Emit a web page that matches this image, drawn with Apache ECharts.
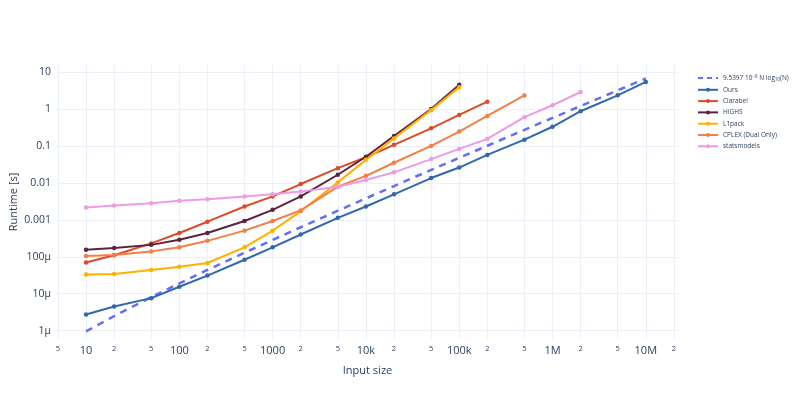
<!DOCTYPE html>
<html><head><meta charset="utf-8">
<script src="https://cdn.jsdelivr.net/npm/echarts@6/dist/echarts.min.js"></script>
<style>html,body{margin:0;padding:0;background:#fff}#c{width:793px;height:397px}</style>
</head><body><div id="c"></div>
<script>
// Input sizes (N)
const sizes = [10, 20, 50, 100, 200, 500, 1e3, 2e3, 5e3, 1e4, 2e4, 5e4, 1e5, 2e5, 5e5, 1e6, 2e6, 5e6, 1e7];
// Runtime [s]
const fitRef = [9.54e-7, 2.482e-6, 8.104e-6, 1.908e-5, 4.390e-5, 1.2874e-4, 2.862e-4, 6.298e-4, 1.7644e-3, 3.816e-3, 8.206e-3, 0.022414, 0.0477, 0.10114, 0.27183, 0.57238, 1.2022, 3.1953, 6.6778];
const ours = [2.75e-6, 4.5e-6, 7.6e-6, 1.55e-5, 3.1e-5, 8.3e-5, 1.8e-4, 4.0e-4, 1.13e-3, 2.3e-3, 4.9e-3, 0.0135, 0.026, 0.057, 0.148, 0.33, 0.87, 2.34, 5.4];
const clarabel = [7e-5, 1.1e-4, 2.3e-4, 4.4e-4, 8.9e-4, 2.3e-3, 4.3e-3, 9.3e-3, 0.025, 0.0495, 0.107, 0.30, 0.69, 1.58];
const highs = [1.55e-4, 1.72e-4, 2.1e-4, 2.9e-4, 4.4e-4, 9.3e-4, 1.86e-3, 4.3e-3, 0.0166, 0.051, 0.186, 1.0, 4.5];
const l1pack = [3.3e-5, 3.4e-5, 4.4e-5, 5.4e-5, 6.8e-5, 1.8e-4, 5.1e-4, 1.7e-3, 0.0103, 0.042, 0.16, 0.93, 3.9];
const cplex = [1.05e-4, 1.12e-4, 1.4e-4, 1.8e-4, 2.7e-4, 5.1e-4, 9.3e-4, 1.8e-3, 7.9e-3, 0.0155, 0.035, 0.1, 0.245, 0.65, 2.33];
const statsmodels = [2.15e-3, 2.45e-3, 2.8e-3, 3.3e-3, 3.6e-3, 4.3e-3, 4.9e-3, 5.8e-3, 7.9e-3, 0.012, 0.0193, 0.044, 0.083, 0.155, 0.6, 1.26, 2.88];

const seriesNames = ['fit', 'Ours', 'Clarabel', 'HiGHS', 'L1pack', 'CPLEX (Dual Only)', 'statsmodels'];
const seriesValues = [fitRef, ours, clarabel, highs, l1pack, cplex, statsmodels];
const seriesColors = ['#636efa', '#2f69ad', '#dc4b27', '#5b2340', '#ffb000', '#f47f45', '#ee9be6'];

const xTickValues = [5, 10, 20, 50, 100, 200, 500, 1e3, 2e3, 5e3, 1e4, 2e4, 5e4, 1e5, 2e5, 5e5, 1e6, 2e6, 5e6, 1e7, 2e7];
const xTickLabels = ['5', '10', '2', '5', '100', '2', '5', '1000', '2', '5', '10k', '2', '5', '100k', '2', '5', '1M', '2', '5', '10M', '2'];
const yTickValues = [1e-6, 1e-5, 1e-4, 1e-3, 1e-2, 0.1, 1, 10];
const yTickLabels = ['1μ', '10μ', '100μ', '0.001', '0.01', '0.1', '1', '10'];

const lg = Math.log10;
function lookup(vals, v) {
  for (let i = 0; i < vals.length; i++) if (Math.abs(lg(vals[i]) - v) < 1e-6) return i;
  return -1;
}
const FONT = '"Open Sans", "Noto Sans", sans-serif';
const TXT = '#2a3f5f';

const series = seriesNames.map((name, k) => {
  const isFit = k === 0;
  return {
    name: name,
    type: 'line',
    data: seriesValues[k].map((v, i) => [lg(sizes[i]), lg(v)]),
    showSymbol: !isFit,
    symbol: 'circle',
    symbolSize: 4.5,
    lineStyle: { width: isFit ? 2.5 : 2, color: seriesColors[k], type: isFit ? [7, 6] : 'solid' },
    itemStyle: { color: seriesColors[k] },
    emphasis: { disabled: true },
    animation: false,
    z: 2 + k
  };
});

const legendData = seriesNames.map((name, k) => k === 0
  ? { name: name, itemStyle: { opacity: 0 }, lineStyle: { type: [5, 4], width: 2, color: seriesColors[0] } }
  : { name: name });

const chart = echarts.init(document.getElementById('c'), null, { renderer: 'canvas' });
chart.setOption({
  backgroundColor: '#fff',
  animation: false,
  textStyle: { fontFamily: FONT },
  grid: { left: 57, right: 115, top: 65, bottom: 58, containLabel: false, outerBoundsMode: 'none' },
  legend: {
    orient: 'vertical',
    left: 692,
    top: 69,
    width: 100,
    itemWidth: 20,
    itemHeight: 5,
    itemGap: 4.3,
    data: legendData,
    textStyle: {
      fontSize: 6.5, color: TXT, fontFamily: FONT,
      rich: {
        a: { fontSize: 6.5, color: TXT, fontFamily: FONT },
        s: { fontSize: 4.5, color: TXT, fontFamily: FONT, verticalAlign: 'top', padding: [0, 0, 3, 0] },
        b: { fontSize: 4.5, color: TXT, fontFamily: FONT, padding: [3, 0, 0, 0] }
      }
    },
    formatter: function (name) {
      if (name === 'fit') return '{a|9.5397 10}{s|−8}{a| N log}{b|10}{a|(N)}';
      return name;
    }
  },
  xAxis: {
    type: 'value',
    min: 0.689,
    max: 7.345,
    name: 'Input size',
    nameLocation: 'middle',
    nameGap: 26,
    nameMoveOverlap: false,
    nameTextStyle: { fontSize: 11, color: TXT, fontFamily: FONT },
    axisLine: { show: false },
    axisTick: { show: false, customValues: xTickValues.map(lg) },
    splitLine: { show: true, lineStyle: { color: '#ebf0f8', width: 1 } },
    axisLabel: {
      customValues: xTickValues.map(lg),
      margin: 6,
      color: TXT,
      fontFamily: FONT,
      formatter: function (v) {
        const i = lookup(xTickValues, v);
        if (i < 0) return '';
        const mant = xTickValues[i] / Math.pow(10, Math.floor(lg(xTickValues[i]) + 1e-9));
        return Math.abs(mant - 1) < 1e-6 ? '{M|' + xTickLabels[i] + '}' : '{m|' + xTickLabels[i] + '}';
      },
      rich: {
        M: { fontSize: 11, color: TXT, fontFamily: FONT },
        m: { fontSize: 7.5, color: TXT, fontFamily: FONT, padding: [0, 0, 3, 0] }
      }
    }
  },
  yAxis: {
    type: 'value',
    min: -6.225,
    max: 1.19,
    name: 'Runtime [s]',
    nameLocation: 'middle',
    nameGap: 38,
    nameMoveOverlap: false,
    nameTextStyle: { fontSize: 11, color: TXT, fontFamily: FONT },
    axisLine: { show: false },
    axisTick: { show: false, customValues: yTickValues.map(lg) },
    splitLine: { show: true, lineStyle: { color: '#ebf0f8', width: 1 } },
    axisLabel: {
      customValues: yTickValues.map(lg),
      margin: 6,
      fontSize: 10.5,
      color: TXT,
      fontFamily: FONT,
      formatter: function (v) {
        const i = lookup(yTickValues, v);
        return i < 0 ? '' : yTickLabels[i];
      }
    }
  },
  series: series
});
</script>
</body></html>
